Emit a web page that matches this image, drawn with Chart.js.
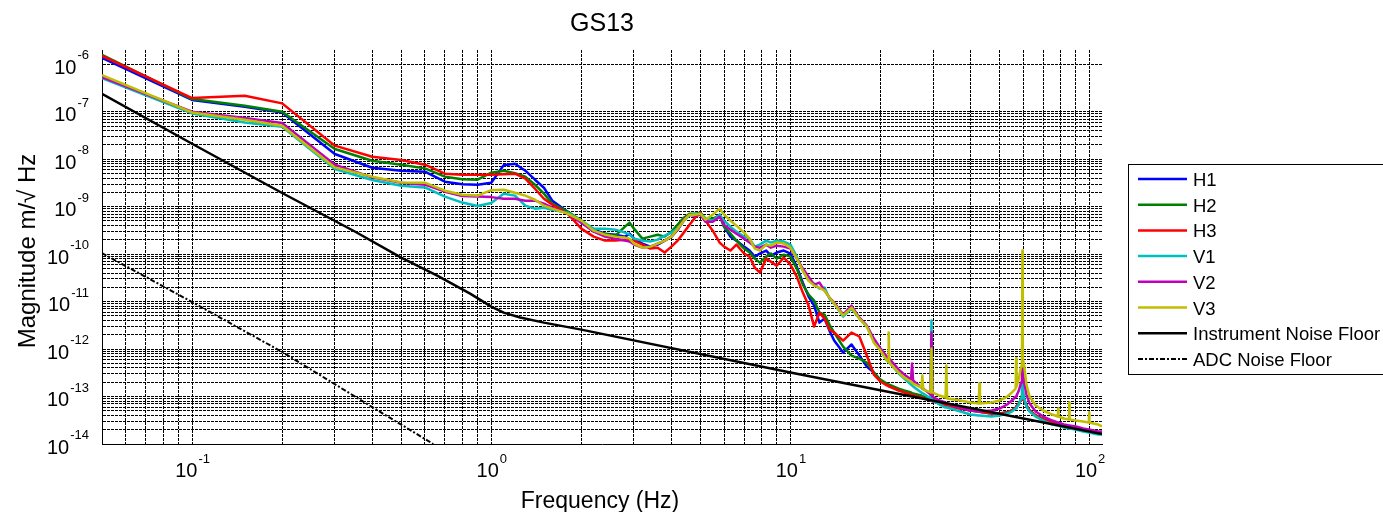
<!DOCTYPE html>
<html>
<head>
<meta charset="utf-8">
<title>GS13</title>
<script src="https://cdn.jsdelivr.net/npm/chart.js@4.4.1/dist/chart.umd.min.js"></script>
<style>
  html, body { margin: 0; padding: 0; background: #fff; }
  canvas { display: block; }
</style>
</head>
<body>
<canvas id="gs13" width="1383" height="512"></canvas>
<script>
// frequency points shared by the six sensor channels (Hz)
const freq = [
  0.05, 0.1, 0.15, 0.2, 0.3, 0.4, 0.5, 0.6, 0.7, 0.8,
  0.9, 1.0, 1.1, 1.2, 1.3, 1.4, 1.5, 1.6, 1.8, 2.0,
  2.2, 2.4, 2.6, 2.8, 2.9, 3.0, 3.2, 3.4, 3.6, 3.8,
  4.0, 4.2, 4.4, 4.6, 4.8, 5.0, 5.2, 5.5, 5.8, 6.0,
  6.3, 6.6, 7.0, 7.3, 7.6, 7.9, 8.3, 8.6, 9.0, 9.5,
  10, 10.5, 11, 11.5, 12, 12.5, 13, 13.5, 14, 15,
  16, 17, 18, 19, 20, 21, 21.2, 21.3, 21.4, 23,
  24, 25.3, 25.5, 25.7, 27.4, 27.6, 27.8, 29.4, 29.6, 29.8,
  31.5, 33.0, 33.2, 33.4, 37, 40, 42.6, 42.8, 43.0, 47,
  50, 53, 55, 56.6, 56.8, 57.0, 58, 59, 59.4, 59.6,
  59.8, 60.5, 61.5, 63, 66, 70, 75, 78.3, 78.5, 78.7,
  82, 85.3, 85.5, 85.7, 90, 95, 99.4, 99.6, 99.8, 103,
  107, 110
];

// magnitude, m/sqrt(Hz)
const h1 = [
  1.37e-6, 1.77e-7, 1.28e-7, 9.67e-8, 1.29e-8, 6.62e-9, 5.73e-9, 5.46e-9, 3.36e-9, 2.98e-9,
  2.91e-9, 3.2e-9, 7.48e-9, 8.04e-9, 5.73e-9, 3.7e-9, 2.51e-9, 1.34e-9, 7.85e-10, 4.61e-10,
  3.28e-10, 2.7e-10, 2.57e-10, 2.34e-10, 2.7e-10, 2.12e-10, 1.67e-10, 1.44e-10, 1.59e-10, 1.93e-10,
  2.34e-10, 3.28e-10, 5.08e-10, 6.79e-10, 6.79e-10, 7.12e-10, 5.08e-10, 5.33e-10, 6.79e-10, 3.79e-10,
  2.34e-10, 1.93e-10, 1.44e-10, 1.19e-10, 8.86e-11, 1.03e-10, 1.19e-10, 9.3e-11, 1.08e-10, 1.19e-10,
  1.03e-10, 5.46e-11, 2.51e-11, 1.28e-11, 8.24e-12, 3.61e-12, 4.39e-12, 2.45e-12, 1.51e-12, 8.44e-13,
  1.25e-12, 7.3e-13, 4.29e-13, 3.2e-13, 2.17e-13, 1.79e-13, 1.75e-13, 1.71e-13, 1.68e-13, 1.4e-13,
  1.28e-13, 1.16e-13, 1.12e-13, 1.1e-13, 1.0e-13, 9.6e-14, 9.5e-14, 8.3e-14, 8.2e-14, 8.1e-14,
  7.1e-14, 6.5e-14, 6.45e-14, 6.4e-14, 5.6e-14, 5.1e-14, 4.85e-14, 4.8e-14, 4.8e-14, 4.4e-14,
  4.4e-14, 4.6e-14, 5.1e-14, 5.8e-14, 5.9e-14, 6.2e-14, 7.1e-14, 8.6e-14, 1.0e-13, 1.1e-13,
  1.0e-13, 8.2e-14, 6.5e-14, 5.1e-14, 4.0e-14, 3.3e-14, 2.84e-14, 2.58e-14, 2.57e-14, 2.56e-14,
  2.34e-14, 2.24e-14, 2.23e-14, 2.22e-14, 2.12e-14, 1.93e-14, 1.85e-14, 1.84e-14, 1.83e-14, 1.75e-14,
  1.67e-14, 1.66e-14
];
const h2 = [
  1.58e-6, 1.85e-7, 1.34e-7, 1.0e-7, 1.64e-8, 9.3e-9, 7.66e-9, 6.41e-9, 4.29e-9, 3.79e-9,
  3.7e-9, 5.2e-9, 5.73e-9, 5.08e-9, 4.29e-9, 2.91e-9, 1.88e-9, 1.16e-9, 7.85e-10, 5.08e-10,
  2.98e-10, 2.7e-10, 2.45e-10, 3.79e-10, 4.61e-10, 3.44e-10, 2.12e-10, 2.34e-10, 2.57e-10, 2.34e-10,
  2.98e-10, 4.18e-10, 5.87e-10, 7.12e-10, 7.12e-10, 7.48e-10, 5.59e-10, 5.59e-10, 6.47e-10, 3.79e-10,
  2.7e-10, 1.93e-10, 1.31e-10, 1.08e-10, 8.04e-11, 6.62e-11, 8.86e-11, 1.03e-10, 8.04e-11, 9.76e-11,
  8.86e-11, 4.96e-11, 2.28e-11, 1.4e-11, 1.05e-11, 5.87e-12, 5.33e-12, 3.28e-12, 2.23e-12, 1.13e-12,
  7.3e-13, 6.31e-13, 5.2e-13, 3.2e-13, 2.28e-13, 1.88e-13, 1.8e-13, 1.79e-13, 1.78e-13, 1.47e-13,
  1.34e-13, 1.22e-13, 1.17e-13, 1.16e-13, 1.05e-13, 1.0e-13, 1.0e-13, 9.1e-14, 8.7e-14, 8.6e-14,
  7.5e-14, 6.8e-14, 6.8e-14, 6.75e-14, 5.9e-14, 5.3e-14, 5.1e-14, 5.1e-14, 5.05e-14, 4.6e-14,
  4.4e-14, 4.6e-14, 5.1e-14, 5.85e-14, 5.9e-14, 6.2e-14, 7.1e-14, 8.7e-14, 1.0e-13, 1.1e-13,
  1.0e-13, 8.2e-14, 6.5e-14, 5.1e-14, 4.0e-14, 3.3e-14, 2.85e-14, 2.57e-14, 2.57e-14, 2.56e-14,
  2.35e-14, 2.23e-14, 2.23e-14, 2.22e-14, 2.12e-14, 1.94e-14, 1.84e-14, 1.84e-14, 1.83e-14, 1.76e-14,
  1.68e-14, 1.66e-14
];
const h3 = [
  1.51e-6, 1.94e-7, 2.17e-7, 1.5e-7, 1.93e-8, 1.13e-8, 9.62e-9, 7.66e-9, 4.96e-9, 4.72e-9,
  4.72e-9, 4.72e-9, 4.83e-9, 4.96e-9, 3.89e-9, 2.39e-9, 1.47e-9, 1.1e-9, 7.12e-10, 3.44e-10,
  2.34e-10, 1.93e-10, 1.93e-10, 2.02e-10, 1.93e-10, 1.93e-10, 1.59e-10, 1.31e-10, 1.37e-10, 1.08e-10,
  1.44e-10, 1.93e-10, 2.84e-10, 4.18e-10, 5.87e-10, 7.48e-10, 5.08e-10, 3.12e-10, 1.75e-10, 1.44e-10,
  1.19e-10, 1.59e-10, 1.03e-10, 8.86e-11, 5.2e-11, 4.08e-11, 8.04e-11, 6.95e-11, 5.73e-11, 8.44e-11,
  6.01e-11, 3.36e-11, 1.55e-11, 8.24e-12, 2.98e-12, 5.87e-12, 4.39e-12, 2.57e-12, 2.23e-12, 1.51e-12,
  2.23e-12, 1.84e-12, 7.3e-13, 2.91e-13, 2.07e-13, 1.71e-13, 1.7e-13, 1.63e-13, 1.62e-13, 1.34e-13,
  1.22e-13, 1.1e-13, 1.1e-13, 1.05e-13, 9.6e-14, 9.5e-14, 9.1e-14, 8.3e-14, 8.2e-14, 7.9e-14,
  7.1e-14, 6.5e-14, 6.45e-14, 6.45e-14, 5.6e-14, 5.1e-14, 4.85e-14, 4.8e-14, 4.8e-14, 4.4e-14,
  4.4e-14, 4.6e-14, 5.1e-14, 5.8e-14, 5.85e-14, 6.2e-14, 7.1e-14, 8.6e-14, 1.0e-13, 1.1e-13,
  1.0e-13, 8.2e-14, 6.5e-14, 5.1e-14, 4.0e-14, 3.3e-14, 2.84e-14, 2.57e-14, 2.57e-14, 2.56e-14,
  2.34e-14, 2.23e-14, 2.23e-14, 2.22e-14, 2.12e-14, 1.93e-14, 1.84e-14, 1.84e-14, 1.83e-14, 1.75e-14,
  1.67e-14, 1.66e-14
];
const v1 = [
  5.08e-7, 9.21e-8, 5.95e-8, 4.83e-8, 6.22e-9, 3.65e-9, 2.77e-9, 2.55e-9, 1.63e-9, 1.22e-9,
  1.03e-9, 1.19e-9, 1.88e-9, 1.71e-9, 1.05e-9, 9.08e-10, 9.53e-10, 8.65e-10, 7.48e-10, 5.08e-10,
  3.44e-10, 3.44e-10, 3.28e-10, 2.84e-10, 2.57e-10, 2.12e-10, 1.93e-10, 1.84e-10, 2.02e-10, 2.45e-10,
  2.84e-10, 3.44e-10, 5.08e-10, 6.47e-10, 7.12e-10, 7.12e-10, 5.59e-10, 5.08e-10, 6.79e-10, 5.08e-10,
  3.79e-10, 2.98e-10, 2.34e-10, 2.12e-10, 1.44e-10, 1.59e-10, 1.93e-10, 1.75e-10, 1.93e-10, 1.84e-10,
  1.59e-10, 8.86e-11, 4.5e-11, 2.77e-11, 2.39e-11, 1.88e-11, 1.97e-11, 1.16e-11, 9.08e-12, 4.83e-12,
  7.12e-12, 4.39e-12, 2.98e-12, 1.51e-12, 9.3e-13, 5.73e-13, 5.46e-13, 5.2e-13, 5.2e-13, 3.05e-13,
  2.39e-13, 1.79e-13, 1.71e-13, 1.63e-13, 1.22e-13, 1.16e-13, 1.16e-13, 9.08e-14, 3.98e-12, 8.24e-14,
  6.79e-14, 5.87e-14, 5.87e-14, 5.87e-14, 4.83e-14, 4.18e-14, 3.98e-14, 3.98e-14, 3.98e-14, 3.79e-14,
  3.98e-14, 4.39e-14, 4.83e-14, 5.59e-14, 5.59e-14, 5.87e-14, 6.79e-14, 9.08e-14, 1.34e-13, 2.17e-13,
  1.47e-13, 9.08e-14, 6.16e-14, 4.83e-14, 3.79e-14, 3.12e-14, 2.57e-14, 2.45e-14, 2.45e-14, 2.45e-14,
  2.23e-14, 2.12e-14, 2.12e-14, 2.12e-14, 2.02e-14, 1.84e-14, 1.75e-14, 1.75e-14, 1.75e-14, 1.67e-14,
  1.59e-14, 1.59e-14
];
const v2 = [
  5.33e-7, 1.0e-7, 7.37e-8, 5.78e-8, 7.66e-9, 4.14e-9, 3.2e-9, 2.91e-9, 2.07e-9, 1.67e-9,
  1.63e-9, 1.59e-9, 1.47e-9, 1.47e-9, 1.34e-9, 1.34e-9, 1.16e-9, 9.53e-10, 7.12e-10, 4.61e-10,
  2.98e-10, 2.34e-10, 2.12e-10, 1.93e-10, 1.84e-10, 1.59e-10, 1.37e-10, 1.44e-10, 1.67e-10, 1.93e-10,
  2.34e-10, 3.28e-10, 5.33e-10, 6.79e-10, 6.47e-10, 6.79e-10, 4.83e-10, 4.83e-10, 6.16e-10, 4.18e-10,
  3.28e-10, 2.7e-10, 2.12e-10, 1.75e-10, 1.44e-10, 1.37e-10, 1.59e-10, 1.37e-10, 1.51e-10, 1.44e-10,
  1.31e-10, 8.04e-11, 4.96e-11, 3.36e-11, 2.28e-11, 2.51e-11, 1.71e-11, 1.22e-11, 9.53e-12, 5.33e-12,
  8.24e-12, 4.61e-12, 3.12e-12, 1.67e-12, 1.03e-12, 6.95e-13, 6.62e-13, 6.31e-13, 6.31e-13, 3.7e-13,
  2.91e-13, 2.28e-13, 4.96e-13, 2.17e-13, 1.55e-13, 1.47e-13, 1.47e-13, 1.1e-13, 2.23e-12, 1.0e-13,
  8.24e-14, 7.48e-14, 7.12e-14, 7.12e-14, 5.87e-14, 5.08e-14, 4.83e-14, 4.83e-14, 4.83e-14, 5.08e-14,
  5.59e-14, 6.79e-14, 8.24e-14, 1.0e-13, 1.0e-13, 1.05e-13, 1.34e-13, 1.97e-13, 2.91e-13, 4.08e-13,
  3.2e-13, 1.88e-13, 1.1e-13, 7.12e-14, 4.83e-14, 3.79e-14, 3.12e-14, 2.84e-14, 2.84e-14, 2.84e-14,
  2.57e-14, 2.45e-14, 2.45e-14, 2.45e-14, 2.34e-14, 2.12e-14, 2.02e-14, 2.02e-14, 2.02e-14, 1.93e-14,
  1.84e-14, 1.84e-14
];
const v3 = [
  5.87e-7, 9.67e-8, 6.79e-8, 5.08e-8, 6.72e-9, 4.29e-9, 3.25e-9, 3.2e-9, 2.17e-9, 1.79e-9,
  1.71e-9, 2.23e-9, 2.28e-9, 1.97e-9, 1.71e-9, 1.4e-9, 1.05e-9, 9.08e-10, 7.12e-10, 5.08e-10,
  3.12e-10, 2.57e-10, 2.34e-10, 2.23e-10, 2.12e-10, 1.67e-10, 1.37e-10, 1.44e-10, 1.67e-10, 1.93e-10,
  2.34e-10, 3.44e-10, 5.08e-10, 6.79e-10, 6.79e-10, 7.12e-10, 5.33e-10, 6.79e-10, 9.08e-10, 6.79e-10,
  5.08e-10, 3.98e-10, 2.84e-10, 2.12e-10, 1.31e-10, 1.19e-10, 1.59e-10, 1.51e-10, 1.75e-10, 1.67e-10,
  1.37e-10, 8.04e-11, 4.5e-11, 2.77e-11, 2.17e-11, 1.97e-11, 1.71e-11, 1.22e-11, 9.08e-12, 5.08e-12,
  7.48e-12, 4.39e-12, 2.98e-12, 1.37e-12, 9.3e-13, 5.73e-13, 5.46e-13, 2.23e-12, 5.2e-13, 3.2e-13,
  2.51e-13, 2.07e-13, 1.97e-13, 1.88e-13, 1.55e-13, 2.77e-13, 1.4e-13, 1.22e-13, 1.03e-12, 1.22e-13,
  1.05e-13, 9.53e-14, 4.5e-13, 9.08e-14, 8.24e-14, 7.48e-14, 7.12e-14, 1.88e-13, 7.12e-14, 7.48e-14,
  8.24e-14, 1.0e-13, 1.22e-13, 1.47e-13, 6.31e-13, 1.63e-13, 2.39e-13, 4.29e-13, 5.73e-13, 1.19e-10,
  6.31e-13, 4.29e-13, 1.79e-13, 1.0e-13, 6.47e-14, 5.08e-14, 4.18e-14, 3.79e-14, 5.59e-14, 3.79e-14,
  3.44e-14, 3.28e-14, 7.48e-14, 3.28e-14, 3.12e-14, 2.98e-14, 2.84e-14, 4.61e-14, 2.84e-14, 2.7e-14,
  2.57e-14, 2.34e-14
];

// instrument and ADC noise models
const floorFreq = [0.05, 0.1, 0.2, 0.35, 0.5, 0.66, 0.85, 1.0, 1.1, 1.25, 1.5, 2, 10, 110];
const floorVals = [2.39e-7, 2.12e-8, 1.94e-9, 3.0e-10, 8.44e-11, 3.53e-11, 1.47e-11, 7.85e-12, 5.87e-12, 4.61e-12, 3.61e-12, 2.57e-12, 3.2e-13, 1.63e-14];
const adcFreq = [0.05, 0.1, 0.2, 0.4, 0.64];
const adcVals = [1.05e-10, 9.8e-12, 8.7e-13, 6.0e-14, 1.0e-14];

const seriesNames = ['H1', 'H2', 'H3', 'V1', 'V2', 'V3', 'Instrument Noise Floor', 'ADC Noise Floor'];
const seriesColors = ['#0000ff', '#008000', '#ff0000', '#00bfbf', '#bf00bf', '#bfbf00', '#000000', '#000000'];

// decade labels on each axis (powers of ten)
const xTickExps = [-1, 0, 1, 2];
const yTickExps = [-14, -13, -12, -11, -10, -9, -8, -7, -6];

const FONT = '"Liberation Sans", Arial, Helvetica, sans-serif';

function points(xs, ys) {
  return xs.map((x, i) => ({ x: x, y: ys[i] }));
}

// grid lines at 1..9 x 10^n, like a matlab log grid
const xGrid = [];
for (let e = -2; e <= 2; e++) {
  for (let m = 1; m <= 9; m++) {
    const v = m * Math.pow(10, e);
    if (v >= 0.0499 && v <= 110) xGrid.push(v);
  }
}
const yGrid = [];
yTickExps.forEach(e => {
  yGrid.push(Math.pow(10, e));
  if (e <= -8) {
    for (let m = 2; m <= 9; m++) yGrid.push(m * Math.pow(10, e));
  }
});

const sensorVals = [h1, h2, h3, v1, v2, v3];
const datasets = sensorVals.map((vals, i) => ({
  label: seriesNames[i],
  data: points(freq, vals),
  borderColor: seriesColors[i],
  borderWidth: 2.5,
  order: 8 - i
}));
datasets.push({
  label: seriesNames[6],
  data: points(floorFreq, floorVals),
  borderColor: seriesColors[6],
  borderWidth: 2.5,
  order: 2
});
datasets.push({
  label: seriesNames[7],
  data: points(adcFreq, adcVals),
  borderColor: seriesColors[7],
  borderWidth: 2,
  borderDash: [5, 2, 2, 2],
  order: 1
});

// titles, decade labels and the boxed legend
const textPlugin = {
  id: 'gs13Text',
  afterDraw(chart) {
    const ctx = chart.ctx;
    const area = chart.chartArea;
    const xs = chart.scales.x;
    const ys = chart.scales.y;
    ctx.save();
    ctx.fillStyle = '#000';
    ctx.textBaseline = 'alphabetic';
    ctx.textAlign = 'left';

    const power = (e, x, y, centered) => {
      const sup = String(e);
      ctx.font = '20px ' + FONT;
      const wb = ctx.measureText('10').width;
      ctx.font = '13px ' + FONT;
      const ws = ctx.measureText(sup).width;
      const left = centered ? x - (wb + ws) / 2 : x - wb - ws;
      ctx.font = '20px ' + FONT;
      ctx.fillText('10', left, y);
      ctx.font = '13px ' + FONT;
      ctx.fillText(sup, left + wb + 1, y - 14.5);
    };
    xTickExps.forEach(e => power(e, xs.getPixelForValue(Math.pow(10, e)), area.bottom + 33, true));
    yTickExps.forEach(e => power(e, area.left - 14, ys.getPixelForValue(Math.pow(10, e)) + 9.5, false));

    ctx.textAlign = 'center';
    ctx.font = '25px ' + FONT;
    ctx.fillText('GS13', (area.left + area.right) / 2, 31);
    ctx.font = '23px ' + FONT;
    ctx.fillText('Frequency (Hz)', (area.left + area.right) / 2 - 2, 508);
    ctx.save();
    ctx.translate(35, 251);
    ctx.rotate(-Math.PI / 2);
    ctx.font = '24px ' + FONT;
    ctx.fillText('Magnitude m/\u221A Hz', 0, 0);
    ctx.restore();

    // legend
    ctx.fillStyle = '#fff';
    ctx.fillRect(1128.5, 164.5, 300, 210);
    ctx.strokeStyle = '#000';
    ctx.lineWidth = 1;
    ctx.strokeRect(1128.5, 164.5, 300, 210);
    ctx.textAlign = 'left';
    ctx.textBaseline = 'middle';
    ctx.font = '18.5px ' + FONT;
    chart.data.datasets.forEach((ds, i) => {
      const y = 179 + i * 25.7;
      ctx.strokeStyle = ds.borderColor;
      ctx.lineWidth = ds.borderWidth;
      ctx.setLineDash(ds.borderDash || []);
      ctx.beginPath();
      ctx.moveTo(1138, y);
      ctx.lineTo(1187, y);
      ctx.stroke();
      ctx.setLineDash([]);
      ctx.fillStyle = '#000';
      ctx.fillText(ds.label, 1193, y + 2);
    });
    ctx.restore();
  }
};

const gridAxis = (min, max, grid) => ({
  type: 'logarithmic',
  min: min,
  max: max,
  afterBuildTicks: axis => { axis.ticks = grid.map(v => ({ value: v })); },
  ticks: { display: false, autoSkip: false },
  grid: { color: '#000', lineWidth: 1, drawTicks: false },
  border: { display: true, color: '#000', width: 1, dash: [3, 1] }
});

new Chart(document.getElementById('gs13'), {
  type: 'line',
  data: { datasets: datasets },
  options: {
    responsive: false,
    animation: false,
    parsing: { xAxisKey: 'x', yAxisKey: 'y' },
    layout: { padding: { left: 102, right: 281, top: 50, bottom: 68 }, autoPadding: false },
    elements: {
      point: { radius: 0 },
      line: { tension: 0, fill: false, borderJoinStyle: 'round' }
    },
    plugins: {
      legend: { display: false },
      title: { display: false },
      tooltip: { enabled: false }
    },
    scales: {
      x: gridAxis(0.05, 110, xGrid),
      y: gridAxis(1e-14, 2e-6, yGrid)
    }
  },
  plugins: [textPlugin]
});
</script>
</body>
</html>
